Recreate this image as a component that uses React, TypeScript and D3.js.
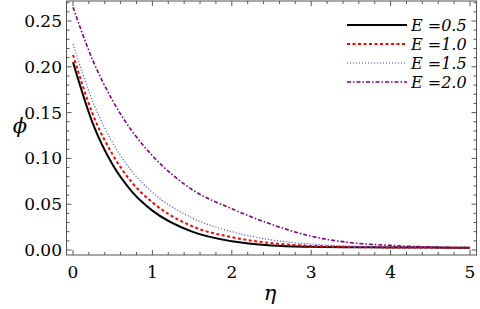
import React from "react";
import * as d3 from "d3";

// eta sample points and phi readings for each E
const eta = [0, 0.25, 0.5, 0.75, 1, 1.5, 2, 2.5, 3, 3.5, 4, 4.5, 5];
const phiE05 = [0.205, 0.138, 0.093, 0.063, 0.043, 0.020, 0.0095, 0.005, 0.0035, 0.003, 0.0028, 0.0026, 0.0025];
const phiE10 = [0.213, 0.148, 0.104, 0.073, 0.052, 0.026, 0.014, 0.0075, 0.0045, 0.0033, 0.0028, 0.0026, 0.0025];
const phiE15 = [0.225, 0.162, 0.117, 0.085, 0.063, 0.035, 0.020, 0.011, 0.0065, 0.0042, 0.0032, 0.0027, 0.0025];
const phiE20 = [0.265, 0.207, 0.163, 0.129, 0.103, 0.066, 0.045, 0.028, 0.015, 0.008, 0.005, 0.0033, 0.0025];

const xTicks = [0, 1, 2, 3, 4, 5];
const yTicks = [0, 0.05, 0.1, 0.15, 0.2, 0.25];

const series = [
  { label: "0.5", values: phiE05, color: "#000000", width: 2, dash: "" },
  { label: "1.0", values: phiE10, color: "#ff0000", width: 2, dash: "3,2.5" },
  { label: "1.5", values: phiE15, color: "#3344ff", width: 1.2, dash: "1,2" },
  { label: "2.0", values: phiE20, color: "#800080", width: 1.6, dash: "4,2,1.5,2" },
];

const left = 66.5, right = 476.5, top = 1, bottom = 255;
const frameColor = "#555";
const font = "'DejaVu Serif', serif";

export default function App() {
  const x = d3.scaleLinear().domain([0, 5]).range([73, 470]);
  const y = d3.scaleLinear().domain([0, 0.25]).range([250, 21]);

  const line = d3
    .line<number>()
    .x((_, i) => x(eta[i]))
    .y((d) => y(d))
    .curve(d3.curveMonotoneX);

  const xMinor = d3.range(0, 5.01, 0.2).filter((v) => x(v) > left && x(v) < right);
  const yMinor = d3.range(0, 0.271, 0.01).filter((v) => y(v) > top && y(v) < bottom);

  return (
    <svg width={480} height={309} style={{ position: "absolute", left: 0, top: 0 }} fontFamily={font}>
      <rect width={480} height={309} fill="white" />
      {series.map((s) => (
        <path
          key={s.label}
          d={line(s.values) || ""}
          fill="none"
          stroke={s.color}
          strokeWidth={s.width}
          strokeDasharray={s.dash}
        />
      ))}
      <rect x={left} y={top} width={right - left} height={bottom - top} fill="none" stroke={frameColor} strokeWidth={1} />
      {xMinor.map((v) => {
        const major = Math.abs(v - Math.round(v)) < 1e-6;
        const len = major ? 5 : 3;
        return (
          <g key={"x" + v} stroke={frameColor} strokeWidth={1}>
            <line x1={x(v)} x2={x(v)} y1={bottom} y2={bottom - len} />
            <line x1={x(v)} x2={x(v)} y1={top} y2={top + len} />
          </g>
        );
      })}
      {yMinor.map((v) => {
        const major = Math.abs(v * 20 - Math.round(v * 20)) < 1e-6;
        const len = major ? 5 : 3;
        return (
          <g key={"y" + v} stroke={frameColor} strokeWidth={1}>
            <line x1={left} x2={left + len} y1={y(v)} y2={y(v)} />
            <line x1={right} x2={right - len} y1={y(v)} y2={y(v)} />
          </g>
        );
      })}
      {xTicks.map((v) => (
        <text key={"xl" + v} x={x(v)} y={278} textAnchor="middle" fontSize={17}>
          {v}
        </text>
      ))}
      {yTicks.map((v) => (
        <text key={"yl" + v} x={62} y={y(v) + 6} textAnchor="end" fontSize={17}>
          {v.toFixed(2)}
        </text>
      ))}
      <text x={270} y={300} textAnchor="middle" fontSize={21} fontStyle="italic">
        η
      </text>
      <text x={20} y={133} textAnchor="middle" fontSize={21} fontStyle="italic">
        ϕ
      </text>
      {series.map((s, i) => {
        const ly = 25 + i * 19;
        return (
          <g key={"lg" + s.label}>
            <line x1={347} x2={407} y1={ly} y2={ly} stroke={s.color} strokeWidth={s.width} strokeDasharray={s.dash} />
            <text x={411} y={ly + 6} fontSize={16} fontStyle="italic">
              {"E =" + s.label}
            </text>
          </g>
        );
      })}
    </svg>
  );
}
